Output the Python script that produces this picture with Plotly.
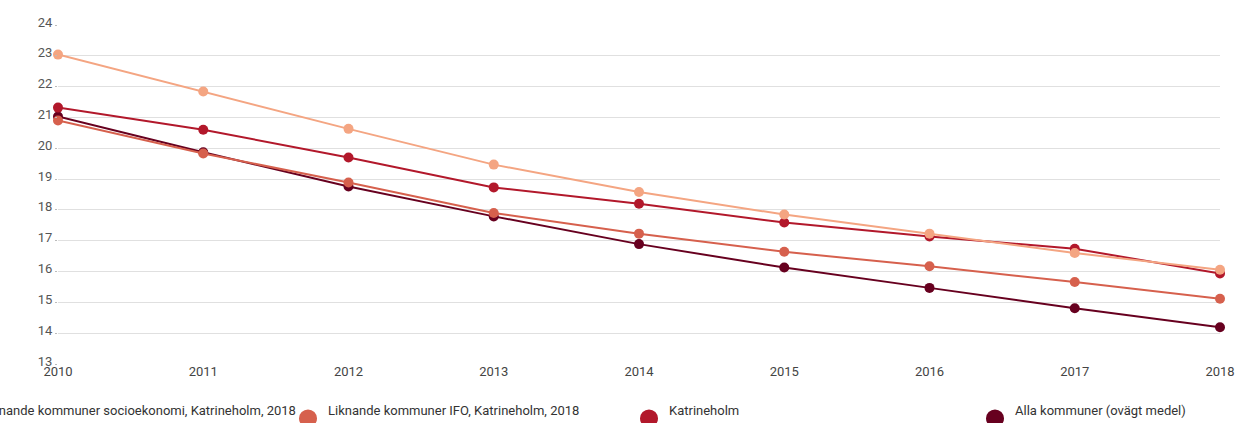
import plotly.graph_objects as go

# Years on the x axis
years = [2010, 2011, 2012, 2013, 2014, 2015, 2016, 2017, 2018]

# Series values
socioekonomi = [23.04, 21.84, 20.63, 19.47, 18.58, 17.85, 17.23, 16.60, 16.06]
ifo = [20.90, 19.83, 18.89, 17.90, 17.23, 16.64, 16.17, 15.66, 15.12]
katrineholm = [21.32, 20.60, 19.70, 18.73, 18.20, 17.59, 17.14, 16.74, 15.94]
alla_kommuner = [21.03, 19.87, 18.76, 17.79, 16.89, 16.13, 15.47, 14.81, 14.19]

series_names = [
    "Liknande kommuner socioekonomi, Katrineholm, 2018",
    "Liknande kommuner IFO, Katrineholm, 2018",
    "Katrineholm",
    "Alla kommuner (ovägt medel)",
]
series_values = [socioekonomi, ifo, katrineholm, alla_kommuner]
series_colors = ["#F4A582", "#D6604D", "#B2182B", "#67001F"]

y_ticks = list(range(13, 25))

W, H = 1236, 423
ML, MR, MT, MB = 58, 16, 25, 58.5
plot_w = W - ML - MR
plot_h = H - MT - MB

fig = go.Figure()

# Draw last series first so the lighter lines sit on top
for name, vals, col in reversed(list(zip(series_names, series_values, series_colors))):
    fig.add_trace(go.Scatter(
        x=years, y=vals, name=name, mode="lines+markers",
        line=dict(color=col, width=2),
        marker=dict(color=col, size=10),
        cliponaxis=False, showlegend=False,
    ))

# Custom legend row along the bottom edge (horizontally scrolled, first entry partly off-page)
legend_y_px = 419
legend_text_y_px = 411
legend_marker_x_px = [-38, 308, 649, 995]
for cx, name, col in zip(legend_marker_x_px, series_names, series_colors):
    fig.add_shape(
        type="circle", xref="paper", yref="paper",
        xsizemode="pixel", ysizemode="pixel",
        xanchor=(cx - ML) / plot_w, yanchor=(H - MB - legend_y_px) / plot_h,
        x0=-9, x1=9, y0=-9, y1=9,
        fillcolor=col, line=dict(width=0),
    )
    fig.add_annotation(
        xref="paper", yref="paper",
        x=(cx + 18 - ML) / plot_w, y=(H - MB - legend_text_y_px) / plot_h,
        xanchor="left", yanchor="middle", showarrow=False,
        text=name, font=dict(size=13, color="#333333", family="Roboto"),
    )

fig.update_layout(
    width=W, height=H,
    margin=dict(l=ML, r=MR, t=MT, b=MB, pad=0, autoexpand=False),
    paper_bgcolor="white", plot_bgcolor="white",
    font=dict(family="Roboto", size=13, color="#555555"),
)
fig.update_xaxes(
    range=[2010, 2018], tickvals=years, ticktext=[str(y) for y in years],
    showgrid=False, zeroline=False, showline=False, automargin=False,
    ticks="", ticklabelstandoff=-2,
    tickfont=dict(size=13, color="#444444"),
)
fig.update_yaxes(
    range=[13, 24], tickvals=y_ticks, automargin=False,
    showgrid=True, gridcolor="#e0e0e0", gridwidth=1, zeroline=False,
    ticks="outside", ticklen=2, tickcolor="#bbbbbb", ticklabelshift=-3,
    tickfont=dict(size=13, color="#555555"),
)

fig.write_html("out.html")
